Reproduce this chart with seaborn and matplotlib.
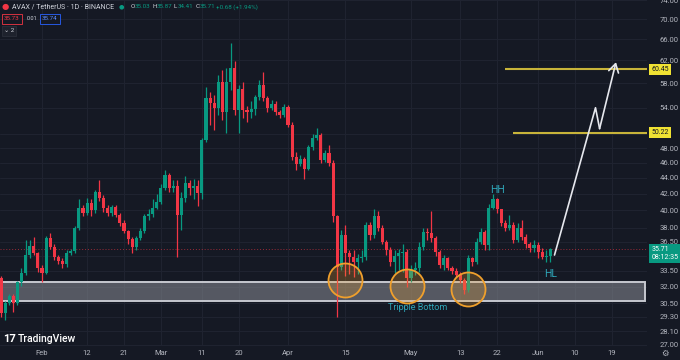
import numpy as np
import pandas as pd
import matplotlib
matplotlib.use("Agg")
import matplotlib.pyplot as plt
from matplotlib.patches import Rectangle
from matplotlib.ticker import NullLocator
from matplotlib.colors import to_rgba
import seaborn as sns

# AVAX / TetherUS daily candles, 21 Jan - 4 Jun 2024 (open = previous close)
first_date = "2024-01-21"
first_open = 33.1
closes = [32.8, 29.6, 30.5, 31.1, 30.5, 32.4, 33.3, 35.1, 36.0, 35.3,
          33.8, 33.3, 36.9, 35.9, 34.9, 34.5, 34.2, 35.3, 35.5, 38.0,
          40.3, 39.7, 40.9, 40.0, 42.2, 41.5, 40.3, 39.7, 40.4, 39.5,
          38.6, 37.6, 36.8, 35.9, 36.9, 37.6, 39.3, 39.6, 40.3, 41.0,
          42.7, 44.4, 42.7, 42.9, 39.5, 41.5, 43.3, 42.7, 42.9, 42.1,
          49.1, 55.6, 54.8, 54.0, 58.3, 53.4, 58.3, 60.7, 53.6, 57.1,
          53.6, 53.3, 53.8, 55.8, 57.7, 55.6, 54.0, 54.6, 53.3, 52.9,
          54.1, 51.3, 46.8, 45.8, 46.5, 45.2, 48.1, 49.4, 49.9, 46.4,
          47.3, 45.9, 39.3, 33.9, 37.2, 35.3, 34.9, 34.4, 34.8, 34.9,
          38.3, 37.2, 39.3, 38.0, 36.5, 35.6, 34.4, 35.0, 35.3, 35.4,
          32.8, 33.6, 33.8, 35.9, 37.5, 37.4, 36.9, 35.4, 34.1, 34.8,
          33.8, 33.5, 33.1, 32.6, 31.7, 34.8, 34.4, 36.5, 37.5, 36.1,
          40.3, 41.3, 40.1, 38.6, 38.0, 38.3, 36.7, 38.0, 37.0, 36.2,
          35.8, 36.1, 35.4, 34.9, 35.03, 35.71]
highs = [33.3, 33.0, 30.7, 31.3, 31.3, 32.5, 33.8, 36.7, 36.7, 37.0,
         35.4, 34.1, 37.1, 37.4, 36.2, 35.1, 34.8, 35.6, 35.7, 38.2,
         41.3, 40.6, 41.5, 41.3, 42.4, 43.7, 41.8, 40.6, 40.6, 40.6,
         39.7, 38.9, 37.8, 37.0, 37.1, 38.0, 39.6, 40.1, 41.3, 41.9,
         43.2, 45.0, 44.6, 43.7, 43.7, 42.2, 44.2, 43.7, 43.9, 43.7,
         49.4, 57.3, 56.6, 56.1, 59.5, 60.3, 60.7, 65.3, 61.9, 57.7,
         58.3, 54.3, 55.0, 56.1, 58.6, 60.0, 55.9, 55.3, 55.0, 53.7,
         54.6, 54.4, 51.8, 47.4, 47.0, 46.8, 48.4, 50.0, 50.9, 50.2,
         47.7, 48.4, 46.4, 39.5, 37.8, 38.3, 35.6, 35.6, 35.2, 35.6,
         38.7, 38.7, 40.1, 39.9, 38.3, 36.7, 35.9, 35.6, 35.7, 36.2,
         35.7, 34.1, 34.4, 36.5, 38.0, 38.0, 39.9, 37.1, 35.6, 35.1,
         34.9, 34.0, 33.8, 33.4, 32.8, 35.1, 34.9, 36.9, 38.0, 37.8,
         40.8, 41.9, 41.5, 40.1, 38.9, 39.5, 38.7, 38.6, 38.9, 37.3,
         36.5, 36.7, 36.5, 35.8, 35.6, 35.87]
lows = [32.6, 29.3, 29.0, 30.3, 29.7, 30.3, 32.1, 33.1, 34.8, 35.1,
        33.4, 32.4, 33.2, 35.7, 34.6, 34.2, 33.8, 33.9, 35.1, 35.3,
        37.8, 39.4, 39.5, 39.4, 39.7, 41.1, 39.8, 39.4, 39.4, 39.2,
        38.2, 37.4, 36.3, 35.3, 35.6, 36.7, 37.4, 38.9, 39.2, 40.1,
        40.8, 42.4, 42.2, 42.2, 34.9, 37.8, 41.0, 41.8, 41.3, 40.5,
        41.3, 48.8, 51.3, 50.6, 52.9, 52.1, 50.2, 56.9, 52.9, 50.2,
        52.4, 51.8, 52.4, 52.9, 55.3, 55.0, 53.4, 53.7, 52.8, 52.4,
        52.6, 51.0, 46.4, 45.0, 45.6, 43.9, 45.0, 47.7, 49.1, 45.9,
        46.1, 45.6, 38.7, 29.3, 33.6, 33.0, 33.2, 32.9, 33.2, 34.4,
        34.6, 36.7, 36.9, 37.6, 36.2, 35.1, 34.0, 33.3, 33.6, 33.4,
        32.0, 32.4, 33.1, 33.4, 35.6, 36.7, 36.5, 35.0, 33.8, 33.6,
        33.6, 33.2, 32.9, 32.3, 31.3, 31.5, 34.0, 34.2, 36.3, 35.6,
        35.6, 40.1, 39.7, 38.2, 37.6, 37.8, 36.4, 36.5, 36.7, 35.8,
        35.4, 35.4, 34.8, 34.7, 34.4, 34.41]

tick_dates = ["2024-02-01", "2024-02-12", "2024-02-21", "2024-03-01", "2024-03-11",
              "2024-03-20", "2024-04-01", "2024-04-15", "2024-05-01", "2024-05-13",
              "2024-05-22", "2024-06-01", "2024-06-10", "2024-06-19"]
tick_labels = ["Feb", "12", "21", "Mar", "11", "20", "Apr", "15", "May", "13",
               "22", "Jun", "10", "19"]
price_ticks = [27.0, 28.1, 29.3, 30.5, 32.0, 33.5, 35.0, 36.5, 38.0, 40.0, 42.0,
               44.0, 46.0, 48.0, 50.0, 54.0, 58.0, 62.0, 66.0, 70.0, 74.0]
hidden_ticks = [35.0, 50.0]

zone_low, zone_high = 30.7, 32.4
zone_end = "2024-06-27"
targets = [60.45, 50.22]
target_from = ["2024-05-24", "2024-05-26"]
bottom_dates = ["2024-04-15", "2024-04-30", "2024-05-15"]
bottom_prices = [32.6, 32.1, 31.8]
arrow_dates = ["2024-06-05", "2024-06-15", "2024-06-16", "2024-06-20"]
arrow_prices = [35.1, 54.0, 50.8, 61.7]
last_price = 35.71

BG = "#151924"
GRID = "#1f2330"
UP = "#089981"
DOWN = "#f23645"
TXT = "#b2b5be"
TEAL = "#2ea6b8"
ORANGE = "#f0a02c"
YEL = "#c8b43a"

base = pd.Timestamp("2024-02-01")


def day_num(d):
    return (pd.to_datetime(d) - base) / pd.Timedelta(days=1)


df = pd.DataFrame({
    "date": pd.date_range(first_date, periods=len(closes), freq="D"),
    "close": closes, "high": highs, "low": lows,
})
df["open"] = [first_open] + closes[:-1]
df["x"] = day_num(df["date"])
df["high"] = df[["high", "open", "close"]].max(axis=1)
df["low"] = df[["low", "open", "close"]].min(axis=1)
col = np.where(df["close"] >= df["open"], UP, DOWN)

sns.set_theme(style="dark", rc={"axes.facecolor": BG, "figure.facecolor": BG})
plt.rcParams["font.family"] = ["Roboto", "DejaVu Sans"]

fig = plt.figure(figsize=(6.8, 3.6), dpi=100)
ax = fig.add_axes([0, 14 / 360, 647 / 680, 346 / 360])
ax.set_yscale("log")
ax.set_ylim(26.9, 74.0)
ax.set_xlim(-10.24, 147.56)

# grid
ax.set_yticks(price_ticks)
ax.yaxis.set_minor_locator(NullLocator())
ax.set_yticklabels(["" if p in hidden_ticks else f"{p:.2f}" for p in price_ticks])
ax.set_xticks(day_num(tick_dates))
ax.set_xticklabels(tick_labels)
ax.grid(True, color=GRID, lw=0.8)
ax.yaxis.tick_right()
ax.tick_params(axis="y", length=0, pad=9, labelsize=5.5, colors=TXT)
ax.tick_params(axis="x", length=0, pad=3, labelsize=5.5, colors=TXT)
for s in ax.spines.values():
    s.set_visible(False)

# support zone
ax.add_patch(Rectangle((-15, zone_low), day_num(zone_end) + 15, zone_high - zone_low,
                       fc=to_rgba("#8a8d96", 0.55), ec="#c6c8cf", lw=1.4, zorder=1))

# candles
ax.vlines(df["x"], df["low"], df["high"], colors=col, lw=0.9, zorder=3)
body_lo = df[["open", "close"]].min(axis=1)
body_h = np.maximum((df["open"] - df["close"]).abs(), body_lo * 0.003)
ax.bar(df["x"], body_h, bottom=body_lo, width=0.74, color=col, lw=0, zorder=3)

# last price line
ax.axhline(last_price, color=DOWN, lw=0.7, ls=(0, (1, 2)), alpha=0.6, zorder=2)

# triple bottom circles
sns.scatterplot(x=day_num(bottom_dates), y=bottom_prices, s=600, ax=ax,
                color=to_rgba(ORANGE, 0.25), edgecolor=ORANGE, linewidth=1.3, zorder=4)

# target lines
for p, d in zip(targets, target_from):
    ax.hlines(p, day_num(d), 147.56, color=YEL, lw=1.5, zorder=2)

# projection arrow
ax_x = day_num(arrow_dates)
sns.lineplot(x=ax_x[:3], y=arrow_prices[:3], sort=False, estimator=None,
             color="#e6e8ee", lw=1.2, ax=ax, zorder=5)
ax.annotate("", xy=(ax_x[3], arrow_prices[3]), xytext=(ax_x[2], arrow_prices[2]),
            arrowprops=dict(arrowstyle="->,head_length=0.5,head_width=0.3",
                            color="#e6e8ee", lw=1.2, shrinkA=0, shrinkB=0), zorder=5)
ax.set_xlabel("")
ax.set_ylabel("")

# labels on chart
ax.text(day_num("2024-05-22"), 42.5, "HH", color=TEAL, fontsize=7.5, ha="center", va="center")
ax.text(day_num("2024-06-04"), 33.2, "HL", color=TEAL, fontsize=7.5, ha="center", va="center")
ax.text(day_num("2024-05-02") + 0.7, 30.1, "Tripple Bottom", color=TEAL, fontsize=6.5,
        ha="center", va="center")


# price scale tags
def tag(price, text, fc, tc, dy=0, va="center"):
    ax.annotate(text, xy=(1, price), xycoords=("axes fraction", "data"), xytext=(3, dy),
                textcoords="offset points", ha="left", va=va, fontsize=5,
                color=tc, linespacing=1.25,
                bbox=dict(boxstyle="square,pad=0.3", fc=fc, ec="none"), annotation_clip=False)


for p in targets:
    tag(p, f"{p:.2f}", "#f0e233", "#131722")
tag(last_price, f"{last_price:.2f}\n08:12:35", UP, "white", dy=2.5, va="top")


# header and watermark (figure pixel coords)
def ftext(x, y, s, **kw):
    fig.text(x / 680, 1 - y / 360, s, va="center", **kw)


ftext(2, 7, "●", color=DOWN, fontsize=6)
ftext(12, 7, "AVAX / TetherUS · 1D · BINANCE", color="#d1d4dc", fontsize=5)
ftext(119, 7, "●", color=UP, fontsize=4.5)
xpos = 131
for lab, val in [("O", "35.03"), ("H", "35.87"), ("L", "34.41"), ("C", "35.71")]:
    ftext(xpos, 7, lab, color="#d1d4dc", fontsize=4.5)
    ftext(xpos + 4, 7, val, color=UP, fontsize=4.5)
    xpos += 21.5
ftext(xpos - 1, 7, "+0.68 (+1.94%)", color=UP, fontsize=4.5)

ftext(4, 19, "35.73", color=DOWN, fontsize=4.5,
      bbox=dict(boxstyle="square,pad=0.35", fc=BG, ec=DOWN, lw=0.6))
ftext(27, 19, "0.01", color="#d1d4dc", fontsize=4)
ftext(42, 19, "35.74", color="#5b8cff", fontsize=4.5,
      bbox=dict(boxstyle="square,pad=0.35", fc=BG, ec="#2962ff", lw=0.6))
ftext(4, 31, "⌄ 2", color="#d1d4dc", fontsize=4.5,
      bbox=dict(boxstyle="square,pad=0.35", fc="#1e222d", ec="#2a2e39", lw=0.6))

ftext(3, 339, "17", color="white", fontsize=8, fontweight="bold")
ftext(18, 339, "TradingView", color="white", fontsize=7.5, fontweight="medium")
ftext(661, 353, "⚙", color=TXT, fontsize=6, family=["DejaVu Sans"])

fig.savefig("out.png", dpi=100, facecolor=BG)
